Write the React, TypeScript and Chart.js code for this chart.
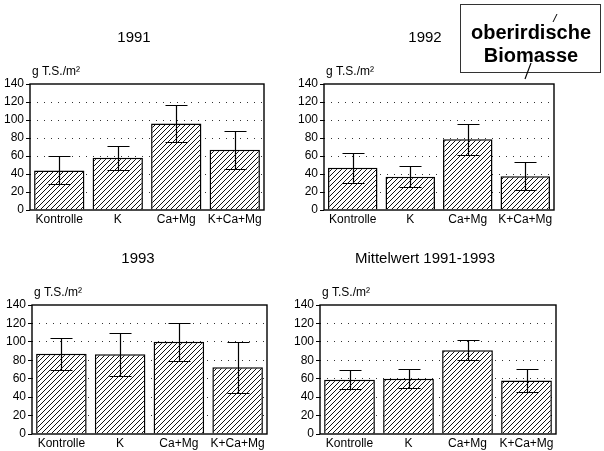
import React, { useEffect, useRef } from 'react';
import { Chart, registerables } from 'chart.js';

Chart.register(...registerables);

const FONT = '"Liberation Sans", Arial, Helvetica, sans-serif';
Chart.defaults.font.family = FONT;

// ---- data ----
const categories = ['Kontrolle', 'K', 'Ca+Mg', 'K+Ca+Mg'];
const yMin = 0;
const yMax = 140;
const yStep = 20;
const unitLabel = 'g T.S./m²';
const boxLines = ['oberirdische', 'Biomasse'];

const titles = ['1991', '1992', '1993', 'Mittelwert 1991-1993'];

const values1991 = [44, 58, 96, 67];
const errors1991 = [15.5, 13.5, 20.5, 21];

const values1992 = [47, 37, 78.5, 37.5];
const errors1992 = [16.5, 11.5, 17.5, 15.5];

const values1993 = [87, 86.5, 100, 72.5];
const errors1993 = [17.5, 23.5, 21, 27.5];

const valuesMean = [59, 60, 91, 58];
const errorsMean = [10, 10.5, 11, 12.5];

// ---- layout ----
type Rect = { x: number; y: number; w: number; h: number };
type Plot = { l: number; t: number; r: number; b: number };
type Panel = {
  title: string;
  values: number[];
  errors: number[];
  canvas: Rect;
  plot: Plot;
  titlePos: { x: number; y: number };
};

const panels: Panel[] = [
  {
    title: titles[0], values: values1991, errors: errors1991,
    canvas: { x: 0, y: 20, w: 290, h: 220 },
    plot: { l: 30, t: 84, r: 264, b: 210 },
    titlePos: { x: 134, y: 38 },
  },
  {
    title: titles[1], values: values1992, errors: errors1992,
    canvas: { x: 276, y: 20, w: 328, h: 220 },
    plot: { l: 324, t: 84, r: 554, b: 210 },
    titlePos: { x: 425, y: 38 },
  },
  {
    title: titles[2], values: values1993, errors: errors1993,
    canvas: { x: 0, y: 240, w: 290, h: 211 },
    plot: { l: 32, t: 305, r: 267, b: 434 },
    titlePos: { x: 138, y: 259 },
  },
  {
    title: titles[3], values: valuesMean, errors: errorsMean,
    canvas: { x: 276, y: 240, w: 328, h: 211 },
    plot: { l: 320, t: 305, r: 556, b: 434 },
    titlePos: { x: 425, y: 259 },
  },
];

function makeHatch(ctx: CanvasRenderingContext2D): CanvasPattern | string {
  const s = 5;
  const c = document.createElement('canvas');
  c.width = s;
  c.height = s;
  const g = c.getContext('2d');
  if (!g) return '#fff';
  g.fillStyle = '#fff';
  g.fillRect(0, 0, s, s);
  g.strokeStyle = '#111';
  g.lineWidth = 1;
  g.beginPath();
  g.moveTo(0, s);
  g.lineTo(s, 0);
  g.moveTo(-1, 1);
  g.lineTo(1, -1);
  g.moveTo(s - 1, s + 1);
  g.lineTo(s + 1, s - 1);
  g.stroke();
  return ctx.createPattern(c, 'repeat') || '#fff';
}

function PanelChart({ p }: { p: Panel }) {
  const ref = useRef<HTMLCanvasElement>(null);
  useEffect(() => {
    const canvas = ref.current;
    if (!canvas) return;
    const ctx2d = canvas.getContext('2d');
    if (!ctx2d) return;
    const pattern = makeHatch(ctx2d);
    const yW = 28;
    const xH = 17;
    const padding = {
      left: p.plot.l - p.canvas.x - yW,
      top: p.plot.t - p.canvas.y,
      right: p.canvas.x + p.canvas.w - p.plot.r,
      bottom: p.canvas.y + p.canvas.h - p.plot.b - xH,
    };
    const deco = {
      id: 'deco',
      afterDatasetsDraw(chart: any) {
        const { ctx, chartArea: a, scales } = chart;
        const y = scales.y;
        const meta = chart.getDatasetMeta(0);
        ctx.save();
        ctx.strokeStyle = '#000';
        ctx.lineWidth = 1.2;
        meta.data.forEach((bar: any, i: number) => {
          const v = p.values[i];
          const e = p.errors[i];
          const yT = Math.round(y.getPixelForValue(v + e)) + 0.5;
          const yB = Math.round(y.getPixelForValue(v - e)) + 0.5;
          const x = Math.round(bar.x) + 0.5;
          ctx.beginPath();
          ctx.moveTo(x, yT);
          ctx.lineTo(x, yB);
          ctx.moveTo(x - 11, yT);
          ctx.lineTo(x + 11, yT);
          ctx.moveTo(x - 11, yB);
          ctx.lineTo(x + 11, yB);
          ctx.stroke();
        });
        ctx.lineWidth = 1.4;
        ctx.strokeRect(a.left, a.top, a.right - a.left, a.bottom - a.top);
        ctx.fillStyle = '#000';
        ctx.textBaseline = 'middle';
        ctx.textAlign = 'center';
        ctx.font = `15px ${FONT}`;
        ctx.fillText(p.title, p.titlePos.x - p.canvas.x, p.titlePos.y - p.canvas.y);
        ctx.textAlign = 'left';
        ctx.font = `12px ${FONT}`;
        ctx.fillText(unitLabel, a.left + 2, a.top - 12);
        ctx.restore();
      },
    };
    const chart = new Chart(canvas, {
      type: 'bar',
      data: {
        labels: categories,
        datasets: [
          {
            data: p.values,
            backgroundColor: pattern as any,
            borderColor: '#000',
            borderWidth: 1.5,
            barPercentage: 0.86,
            categoryPercentage: 1,
          },
        ],
      },
      options: {
        animation: false,
        responsive: false,
        maintainAspectRatio: false,
        layout: { padding },
        plugins: {
          legend: { display: false },
          tooltip: { enabled: false },
          title: { display: false },
        },
        scales: {
          x: {
            grid: { display: false, drawTicks: false, tickLength: 0 },
            border: { display: false },
            ticks: {
              color: '#000',
              font: { size: 12, family: FONT },
              padding: 2,
              maxRotation: 0,
              autoSkip: false,
            },
            afterFit: (s: any) => { s.height = xH; },
          },
          y: {
            min: yMin,
            max: yMax,
            border: { display: false, dash: [1, 6] },
            grid: {
              color: (c: any) =>
                c.tick && (c.tick.value === yMin || c.tick.value === yMax) ? 'rgba(0,0,0,0)' : '#333',
              lineWidth: 1,
              tickColor: '#000',
              tickLength: 4,
              tickBorderDash: [],
              tickWidth: 1,
            },
            ticks: {
              stepSize: yStep,
              color: '#000',
              font: { size: 12, family: FONT },
              padding: 2,
            },
            afterFit: (s: any) => { s.width = yW; },
          },
        },
      },
      plugins: [deco],
    } as any);
    return () => chart.destroy();
  }, [p]);
  return (
    <canvas
      ref={ref}
      width={p.canvas.w}
      height={p.canvas.h}
      style={{
        position: 'absolute',
        left: p.canvas.x,
        top: p.canvas.y,
        width: p.canvas.w,
        height: p.canvas.h,
      }}
    />
  );
}

export default function App() {
  return (
    <div
      style={{
        position: 'absolute',
        left: 0,
        top: 0,
        width: 604,
        height: 451,
        background: '#fff',
        overflow: 'hidden',
        fontFamily: FONT,
      }}
    >
      {panels.map((p, i) => (
        <PanelChart key={i} p={p} />
      ))}
      <div
        style={{
          position: 'absolute',
          left: 460,
          top: 4,
          width: 141,
          height: 69,
          border: '1px solid #333',
          background: '#fff',
          boxSizing: 'border-box',
          zIndex: 2,
        }}
      />
      <div
        style={{
          position: 'absolute',
          left: 460,
          top: 21,
          width: 142,
          textAlign: 'center',
          fontWeight: 'bold',
          fontSize: 20,
          lineHeight: '23px',
          color: '#000',
          zIndex: 3,
        }}
      >
        <div>{boxLines[0]}</div>
        <div>{boxLines[1]}</div>
      </div>
      <svg
        width={604}
        height={451}
        style={{ position: 'absolute', left: 0, top: 0, zIndex: 4, pointerEvents: 'none' }}
      >
        <line x1={553} y1={22} x2={557} y2={14} stroke="#000" strokeWidth={1} />
        <line x1={531} y1={63} x2={525} y2={79} stroke="#000" strokeWidth={1.2} />
      </svg>
    </div>
  );
}
